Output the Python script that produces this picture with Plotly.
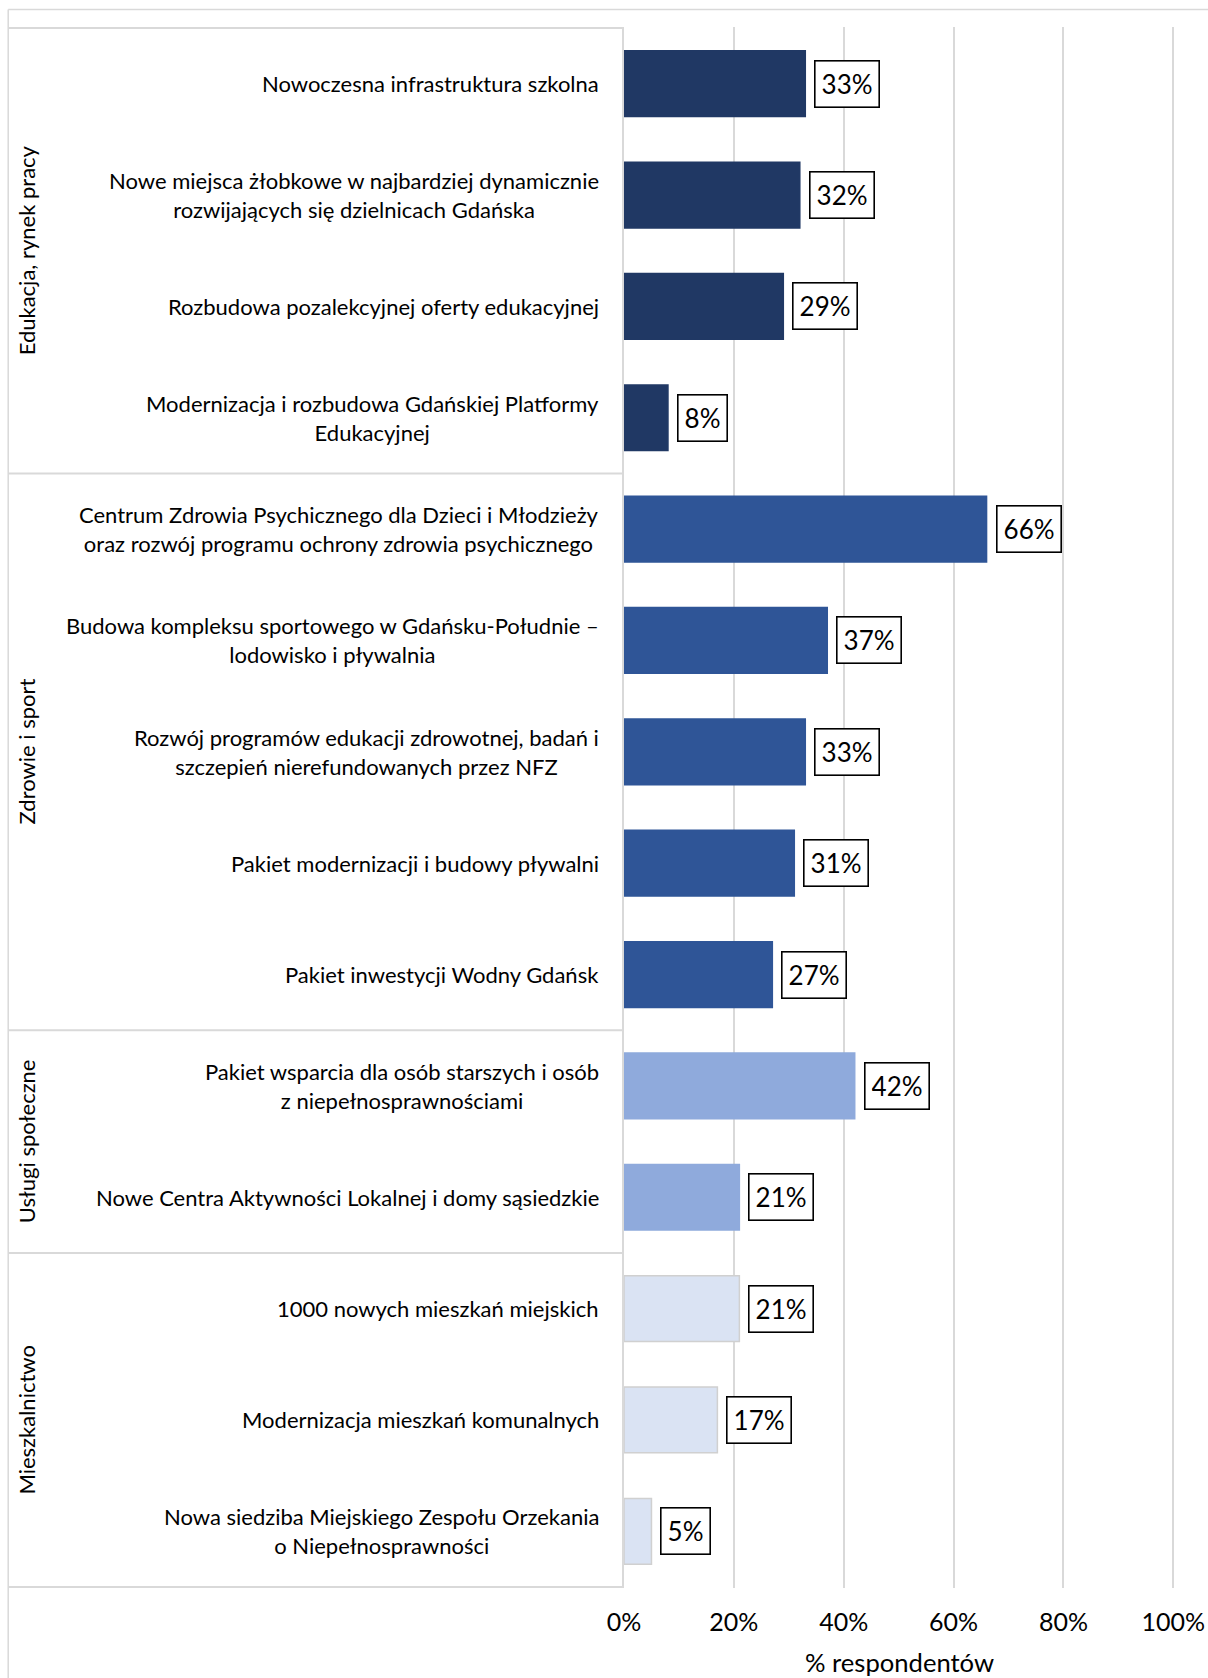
import plotly.graph_objects as go

categories = [
    "Nowoczesna infrastruktura szkolna",
    "Nowe miejsca żłobkowe w najbardziej dynamicznie<br>rozwijających się dzielnicach Gdańska",
    "Rozbudowa pozalekcyjnej oferty edukacyjnej",
    "Modernizacja i rozbudowa Gdańskiej Platformy<br>Edukacyjnej",
    "Centrum Zdrowia Psychicznego dla Dzieci i Młodzieży<br>oraz rozwój programu ochrony zdrowia psychicznego",
    "Budowa kompleksu sportowego w Gdańsku-Południe –<br>lodowisko i pływalnia",
    "Rozwój programów edukacji zdrowotnej, badań i<br>szczepień nierefundowanych przez NFZ",
    "Pakiet modernizacji i budowy pływalni",
    "Pakiet inwestycji Wodny Gdańsk",
    "Pakiet wsparcia dla osób starszych i osób<br>z niepełnosprawnościami",
    "Nowe Centra Aktywności Lokalnej i domy sąsiedzkie",
    "1000 nowych mieszkań miejskich",
    "Modernizacja mieszkań komunalnych",
    "Nowa siedziba Miejskiego Zespołu Orzekania<br>o Niepełnosprawności",
]
values = [33, 32, 29, 8, 66, 37, 33, 31, 27, 42, 21, 21, 17, 5]
groups = ["Edukacja, rynek pracy"] * 4 + ["Zdrowie i sport"] * 5 + ["Usługi społeczne"] * 2 + ["Mieszkalnictwo"] * 3
group_names = ["Edukacja, rynek pracy", "Zdrowie i sport", "Usługi społeczne", "Mieszkalnictwo"]
group_colors = {"Edukacja, rynek pracy": "#203864", "Zdrowie i sport": "#2F5597",
                "Usługi społeczne": "#8FAADC", "Mieszkalnictwo": "#DAE3F3"}
group_lines = {"Edukacja, rynek pracy": "#203864", "Zdrowie i sport": "#2F5597",
               "Usługi społeczne": "#8FAADC", "Mieszkalnictwo": "#D0D0D0"}
x_ticks = [0, 20, 40, 60, 80, 100]
x_ticklabels = ["0%", "20%", "40%", "60%", "80%", "100%"]
x_title = "% respondentów"

FONT = "Lato"
W, H = 1208, 1678
XMAX = 100.3                      # small headroom so the 100% gridline is drawn
PL, PT, PB = 624, 27, 1588        # plot area in px
PR = PL + 5.49 * XMAX             # 5.49 px per percent

fig = go.Figure()
fig.add_trace(go.Bar(
    y=categories, x=values, orientation="h",
    marker=dict(color=[group_colors[g] for g in groups],
                line=dict(color=[group_lines[g] for g in groups], width=1.5)),
    width=0.59, hoverinfo="x+y", showlegend=False,
))

annotations = []
for c, v in zip(categories, values):
    annotations.append(dict(x=0, y=c, xref="x", yref="y", text=c, showarrow=False,
                            xanchor="right", yanchor="middle", align="center", xshift=-23,
                            font=dict(family=FONT, size=22, color="#000000")))
    annotations.append(dict(x=v, y=c, xref="x", yref="y", text=f"{v}%", showarrow=False,
                            xanchor="left", yanchor="middle", xshift=9,
                            height=33, valign="middle",
                            bordercolor="#000000", borderwidth=1.6, borderpad=6,
                            bgcolor="#FFFFFF",
                            font=dict(family=FONT, size=26, color="#000000")))

def px_to_paper_x(px):
    return (px - PL) / (PR - PL)

def px_to_paper_y(py):
    return (PB - py) / (PB - PT)

BX, BY = 8.6, 9.6  # outer border position
start = 0
shapes = []
for g in group_names:
    n = groups.count(g)
    mid = start + (n - 1) / 2
    annotations.append(dict(x=px_to_paper_x(27), y=mid, xref="paper", yref="y", text=g,
                            showarrow=False, textangle=-90, xanchor="center", yanchor="middle",
                            font=dict(family=FONT, size=22, color="#000000")))
    shapes.append(dict(type="line", xref="paper", yref="y", x0=px_to_paper_x(BX), x1=0,
                       y0=start - 0.5, y1=start - 0.5, line=dict(color="#D9D9D9", width=2)))
    start += n
shapes.append(dict(type="line", xref="paper", yref="y", x0=px_to_paper_x(BX), x1=0,
                   y0=start - 0.5, y1=start - 0.5, line=dict(color="#D9D9D9", width=2)))
# outer chart border (top and left)
shapes.append(dict(type="line", xref="paper", yref="paper", x0=px_to_paper_x(BX), x1=px_to_paper_x(W),
                   y0=px_to_paper_y(BY), y1=px_to_paper_y(BY), line=dict(color="#D9D9D9", width=1.5)))
shapes.append(dict(type="line", xref="paper", yref="paper", x0=px_to_paper_x(BX), x1=px_to_paper_x(BX),
                   y0=px_to_paper_y(BY), y1=px_to_paper_y(H), line=dict(color="#D9D9D9", width=1.5)))

fig.update_layout(
    width=W, height=H,
    margin=dict(l=PL, r=W - PR, t=PT, b=H - PB, pad=0, autoexpand=False),
    paper_bgcolor="#FFFFFF", plot_bgcolor="#FFFFFF",
    annotations=annotations, shapes=shapes,
    font=dict(family=FONT, color="#000000"),
    xaxis=dict(range=[0, XMAX], tickvals=x_ticks, ticktext=x_ticklabels, automargin=False,
               showgrid=True, gridcolor="#D9D9D9", gridwidth=2, zeroline=False,
               showline=False, ticks="", ticklabelstandoff=17,
               tickfont=dict(family=FONT, size=25, color="#000000"),
               title=dict(text=x_title, font=dict(family=FONT, size=25.6, color="#000000"), standoff=19)),
    yaxis=dict(autorange="reversed", showticklabels=False, showgrid=False, zeroline=False,
               automargin=False,
               showline=True, linecolor="#D9D9D9", linewidth=2, ticks=""),
)

fig.write_html("out.html", config={"displayModeBar": False},
               post_script="document.body.style.margin='0';document.body.style.overflow='hidden';")
